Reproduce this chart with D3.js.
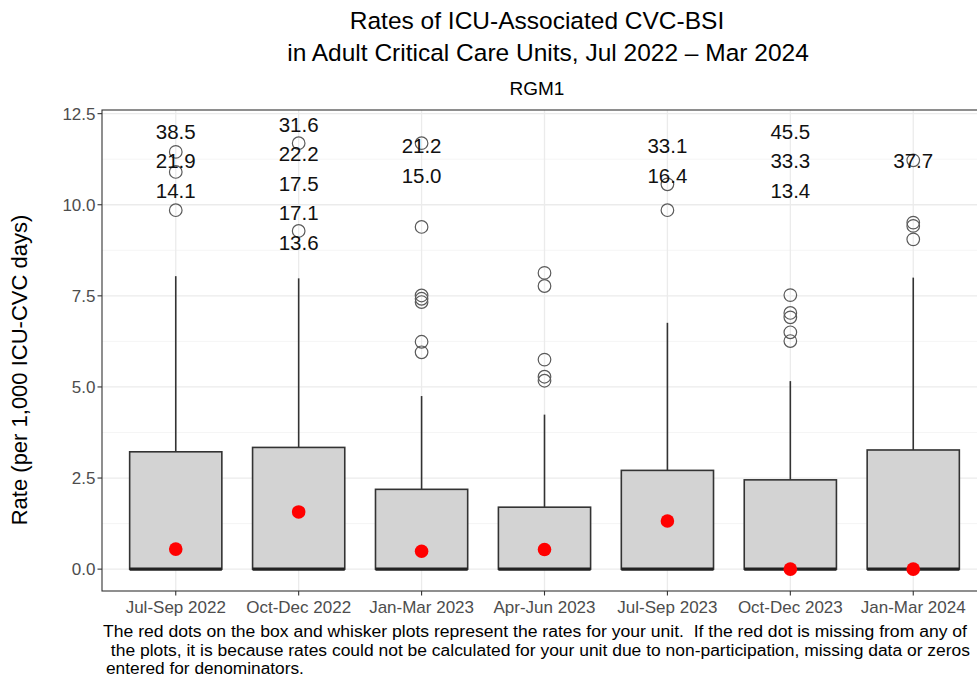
<!DOCTYPE html>
<html>
<head>
<meta charset="utf-8">
<script src="https://cdn.jsdelivr.net/npm/d3@7"></script>
<style>
  body { margin: 0; background: #fff; }
  svg { display: block; }
  text { font-family: "Liberation Sans", Arial, Helvetica, sans-serif; }
</style>
</head>
<body>
<svg id="chart" width="977" height="678"></svg>
<script>
// Quarterly distribution of CVC-BSI rates across adult critical care units
const quarters = ["Jul-Sep 2022", "Oct-Dec 2022", "Jan-Mar 2023", "Apr-Jun 2023",
                  "Jul-Sep 2023", "Oct-Dec 2023", "Jan-Mar 2024"];
const lowerWhisker = [0, 0, 0, 0, 0, 0, 0];
const q1 = [0, 0, 0, 0, 0, 0, 0];
const medians = [0, 0, 0, 0, 0, 0, 0];
const q3 = [3.22, 3.34, 2.19, 1.70, 2.71, 2.45, 3.27];
const upperWhisker = [8.04, 7.98, 4.75, 4.24, 6.76, 5.16, 8.00];
// outlying unit rates that fall inside the plotted range
const outliers = [
  [11.45, 10.90, 9.85],
  [11.69, 9.28],
  [11.69, 9.39, 7.51, 7.42, 7.33, 6.24, 5.95],
  [8.13, 7.77, 5.75, 5.28, 5.17],
  [10.56, 9.85],
  [7.52, 7.03, 6.91, 6.50, 6.26],
  [11.22, 9.51, 9.42, 9.05]
];
// outlying unit rates above the plotted range, written as text
const offScaleRates = [
  [38.5, 21.9, 14.1],
  [31.6, 22.2, 17.5, 17.1, 13.6],
  [21.2, 15.0],
  [],
  [33.1, 16.4],
  [45.5, 33.3, 13.4],
  [37.7]
];
// rate for this unit (red dot)
const unitRates = [0.55, 1.57, 0.49, 0.54, 1.32, 0, 0];
const yTicks = [0, 2.5, 5, 7.5, 10, 12.5];
const yMinorTicks = [1.25, 3.75, 6.25, 8.75, 11.25];

const titleLines = ["Rates of ICU-Associated CVC-BSI",
                    "in Adult Critical Care Units, Jul 2022 \u2013 Mar 2024"];
const subtitle = "RGM1";
const yTitle = "Rate (per 1,000 ICU-CVC days)";
const footnote = [
  "The red dots on the box and whisker plots represent the rates for your unit.  If the red dot is missing from any of",
  " the plots, it is because rates could not be calculated for your unit due to non-participation, missing data or zeros",
  "entered for denominators."
];

const svg = d3.select("#chart");
const panel = { left: 102, right: 987, top: 110, bottom: 591 };

const x = d3.scalePoint().domain(quarters).range([panel.left, panel.right]).padding(0.6);
const y = d3.scaleLinear().domain([-0.6, 12.6]).range([panel.bottom, panel.top]);
const boxW = x.step() * 0.75;

const dark = "#333333";

// grid
const grid = svg.append("g");
grid.selectAll(".minor").data(yMinorTicks).join("line")
  .attr("x1", panel.left).attr("x2", panel.right)
  .attr("y1", d => y(d)).attr("y2", d => y(d))
  .attr("stroke", "#f3f3f3").attr("stroke-width", 0.8);
grid.selectAll(".major").data(yTicks).join("line")
  .attr("x1", panel.left).attr("x2", panel.right)
  .attr("y1", d => y(d)).attr("y2", d => y(d))
  .attr("stroke", "#ebebeb").attr("stroke-width", 1.3);
grid.selectAll(".vmajor").data(quarters).join("line")
  .attr("x1", d => x(d)).attr("x2", d => x(d))
  .attr("y1", panel.top).attr("y2", panel.bottom)
  .attr("stroke", "#ebebeb").attr("stroke-width", 1.3);

// boxes
const stats = quarters.map((q, i) => ({
  q, lo: lowerWhisker[i], q1: q1[i], med: medians[i], q3: q3[i], hi: upperWhisker[i], i
}));
const boxes = svg.append("g").selectAll("g").data(stats).join("g");
boxes.append("line")
  .attr("x1", d => x(d.q)).attr("x2", d => x(d.q))
  .attr("y1", d => y(d.q3)).attr("y2", d => y(d.hi))
  .attr("stroke", dark).attr("stroke-width", 1.6);
boxes.append("rect")
  .attr("x", d => x(d.q) - boxW / 2).attr("width", boxW)
  .attr("y", d => y(d.q3)).attr("height", d => y(d.q1) - y(d.q3))
  .attr("fill", "#d3d3d3").attr("stroke", dark).attr("stroke-width", 1.6);
boxes.append("line")
  .attr("x1", d => x(d.q) - boxW / 2).attr("x2", d => x(d.q) + boxW / 2)
  .attr("y1", d => y(d.med)).attr("y2", d => y(d.med))
  .attr("stroke", "#222").attr("stroke-width", 3.2);

// outlier circles
const outPts = outliers.flatMap((vals, i) => vals.map(v => ({ q: quarters[i], v })));
svg.append("g").selectAll("circle").data(outPts).join("circle")
  .attr("cx", d => x(d.q)).attr("cy", d => y(d.v)).attr("r", 6.3)
  .attr("fill", "none").attr("stroke", "#5a5a5a").attr("stroke-width", 1.2);

// unit rates
svg.append("g").selectAll("circle").data(unitRates).join("circle")
  .attr("cx", (d, i) => x(quarters[i])).attr("cy", d => y(d)).attr("r", 6.8)
  .attr("fill", "#ff0000");

// off-scale values stacked near the top of the panel
const lineGap = 29.5;
const labelPts = offScaleRates.flatMap((vals, i) => {
  const n = vals.length;
  const top = Math.max(y(11.2) - (n - 1) * lineGap / 2, y(12.2));
  return vals.map((v, k) => ({ q: quarters[i], v, yy: top + k * lineGap }));
});
svg.append("g").selectAll("text").data(labelPts).join("text")
  .attr("x", d => x(d.q)).attr("y", d => d.yy).attr("dy", "0.35em")
  .attr("text-anchor", "middle").attr("font-size", 20.5).attr("fill", "#111")
  .text(d => d.v.toFixed(1));

// panel border
svg.append("rect")
  .attr("x", panel.left).attr("y", panel.top)
  .attr("width", panel.right - panel.left).attr("height", panel.bottom - panel.top)
  .attr("fill", "none").attr("stroke", dark).attr("stroke-width", 1.1);

// y axis
const yAxis = svg.append("g");
yAxis.selectAll("line").data(yTicks).join("line")
  .attr("x1", panel.left - 4.5).attr("x2", panel.left)
  .attr("y1", d => y(d)).attr("y2", d => y(d))
  .attr("stroke", dark).attr("stroke-width", 1.1);
yAxis.selectAll("text").data(yTicks).join("text")
  .attr("x", panel.left - 6.5).attr("y", d => y(d)).attr("dy", "0.35em")
  .attr("text-anchor", "end").attr("font-size", 17).attr("fill", "#4d4d4d")
  .text(d3.format(".1f"));

// x axis
const xAxis = svg.append("g");
xAxis.selectAll("line").data(quarters).join("line")
  .attr("x1", d => x(d)).attr("x2", d => x(d))
  .attr("y1", panel.bottom).attr("y2", panel.bottom + 4.5)
  .attr("stroke", dark).attr("stroke-width", 1.1);
xAxis.selectAll("text").data(quarters).join("text")
  .attr("x", d => x(d)).attr("y", panel.bottom + 16).attr("dy", "0.35em")
  .attr("text-anchor", "middle").attr("font-size", 17).attr("fill", "#4d4d4d")
  .text(d => d);

// titles
svg.append("g").selectAll("text").data(titleLines).join("text")
  .attr("x", (d, i) => i === 0 ? 537 : 548).attr("y", (d, i) => 20 + i * 32).attr("dy", "0.35em")
  .attr("text-anchor", "middle").attr("font-size", 24.5).attr("fill", "#000")
  .text(d => d);
svg.append("text")
  .attr("x", 537).attr("y", 88).attr("dy", "0.35em")
  .attr("text-anchor", "middle").attr("font-size", 19).attr("fill", "#000")
  .text(subtitle);

svg.append("text")
  .attr("transform", "translate(19,370) rotate(-90)")
  .attr("dy", "0.35em").attr("text-anchor", "middle")
  .attr("font-size", 22).attr("fill", "#000")
  .text(yTitle);

// footnote
const noteWidths = [864, 864, null];
svg.append("g").selectAll("text").data(footnote).join("text")
  .attr("x", (d, i) => i === 0 ? 103 : 106).attr("y", (d, i) => 637 + i * 18.5)
  .attr("font-size", 17.3).attr("fill", "#000")
  .style("white-space", "pre")
  .each(function (d, i) {
    if (noteWidths[i]) d3.select(this).attr("textLength", noteWidths[i]).attr("lengthAdjust", "spacingAndGlyphs");
  })
  .text(d => d);
</script>
</body>
</html>
